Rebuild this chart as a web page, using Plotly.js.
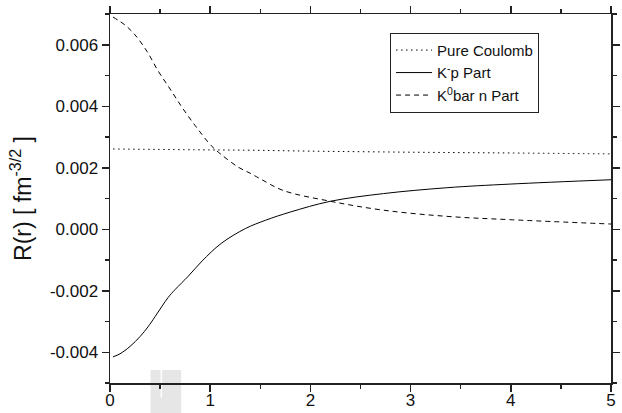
<!DOCTYPE html>
<html>
<head>
<meta charset="utf-8">
<script src="https://cdn.plot.ly/plotly-3.0.1.min.js"></script>
<style>html,body{margin:0;padding:0;background:#fff;}#chart{width:622px;height:413px;}</style>
</head>
<body>
<div id="chart"></div>
<script>
// Pure Coulomb (dotted)
const coulombR = [0.03, 1.0, 1.4, 2.0, 3.2, 4.0, 5.0];
const coulombV = [0.00261, 0.00258, 0.00257, 0.00254, 0.00250, 0.00248, 0.00245];

// K^- p part (solid)
const kpR = [0.03, 0.10, 0.20, 0.30, 0.38, 0.45, 0.58, 0.65, 0.78, 0.92, 1.11, 1.35, 1.55, 1.80, 2.20, 2.73, 3.36, 4.00, 5.00];
const kpV = [-0.00415, -0.00405, -0.00381, -0.00349, -0.00317, -0.00284, -0.00222, -0.00196, -0.00153, -0.00103, -0.00046, 0.00002, 0.00029, 0.00056, 0.00091, 0.00116, 0.00135, 0.00147, 0.00161];

// K^0bar n part (dashed)
const knR = [0.03, 0.15, 0.25, 0.37, 0.48, 0.60, 0.72, 0.85, 1.01, 1.11, 1.28, 1.40, 1.50, 1.73, 2.20, 2.73, 3.36, 4.00, 5.00];
const knV = [0.00690, 0.00664, 0.00632, 0.00578, 0.00515, 0.00456, 0.00396, 0.00337, 0.00272, 0.00243, 0.00202, 0.00182, 0.00164, 0.00126, 0.00091, 0.00062, 0.00042, 0.00031, 0.00017];

const xTicks = [0, 1, 2, 3, 4, 5];
const yTicks = [-0.004, -0.002, 0.000, 0.002, 0.004, 0.006];
const yTickText = ['-0.004', '-0.002', '0.000', '0.002', '0.004', '0.006'];

const names = ['Pure Coulomb', 'K<sup>-</sup>p Part', 'K<sup>0</sup>bar n Part'];

const traces = [
  {x: coulombR, y: coulombV, name: names[0], mode: 'lines',
   line: {color: '#000', width: 1, dash: '1.5px,3.5px', shape: 'spline'}},
  {x: kpR, y: kpV, name: names[1], mode: 'lines',
   line: {color: '#000', width: 1, shape: 'spline', smoothing: 1}},
  {x: knR, y: knV, name: names[2], mode: 'lines',
   line: {color: '#000', width: 1, dash: '5px,4px', shape: 'spline', smoothing: 1}}
];

const axisCommon = {
  showline: true, linecolor: '#222', linewidth: 1.5, mirror: 'allticks',
  ticks: 'outside', ticklen: 7, tickwidth: 1.5, tickcolor: '#222',
  showgrid: false, zeroline: false,
  tickfont: {family: 'Liberation Sans, Arial, sans-serif', size: 17, color: '#111'}
};

const layout = {
  width: 622, height: 413,
  margin: {l: 110, r: 11, t: 14, b: 30},
  paper_bgcolor: '#fff', plot_bgcolor: '#fff',
  font: {family: 'Liberation Sans, Arial, sans-serif', color: '#111'},
  showlegend: true,
  legend: {
    x: 0.559, y: 0.949, xanchor: 'left', yanchor: 'top',
    bordercolor: '#222', borderwidth: 1, bgcolor: '#fff',
    font: {size: 15, color: '#111'}, tracegroupgap: 0, itemwidth: 36
  },
  xaxis: Object.assign({}, axisCommon, {
    range: [0, 5], tickvals: xTicks, ticktext: xTicks.map(String),
    ticklabelstandoff: -6,
    minor: {dtick: 0.5, tick0: 0, ticks: 'outside', ticklen: 4, tickwidth: 1.5, tickcolor: '#222'}
  }),
  yaxis: Object.assign({}, axisCommon, {
    range: [-0.005, 0.007], tickvals: yTicks, ticktext: yTickText,
    minor: {dtick: 0.001, tick0: 0, ticks: 'outside', ticklen: 4, tickwidth: 1.5, tickcolor: '#222'},
    title: {text: 'R(r) [ fm<sup>-3/2</sup> ]', font: {size: 23, color: '#111'}, standoff: 12}
  }),
  shapes: [
    {type: 'rect', xref: 'paper', yref: 'paper', x0: 0.081, x1: 0.142, y0: -0.09, y1: 0.035,
     fillcolor: '#e6e6e6', line: {width: 0}, layer: 'below'},
    {type: 'rect', xref: 'paper', yref: 'paper', x0: 0.101, x1: 0.104, y0: -0.04, y1: 0.035,
     fillcolor: '#ffffff', line: {width: 0}, layer: 'below'}
  ]
};

Plotly.newPlot('chart', traces, layout, {displayModeBar: false, staticPlot: true});
</script>
</body>
</html>
